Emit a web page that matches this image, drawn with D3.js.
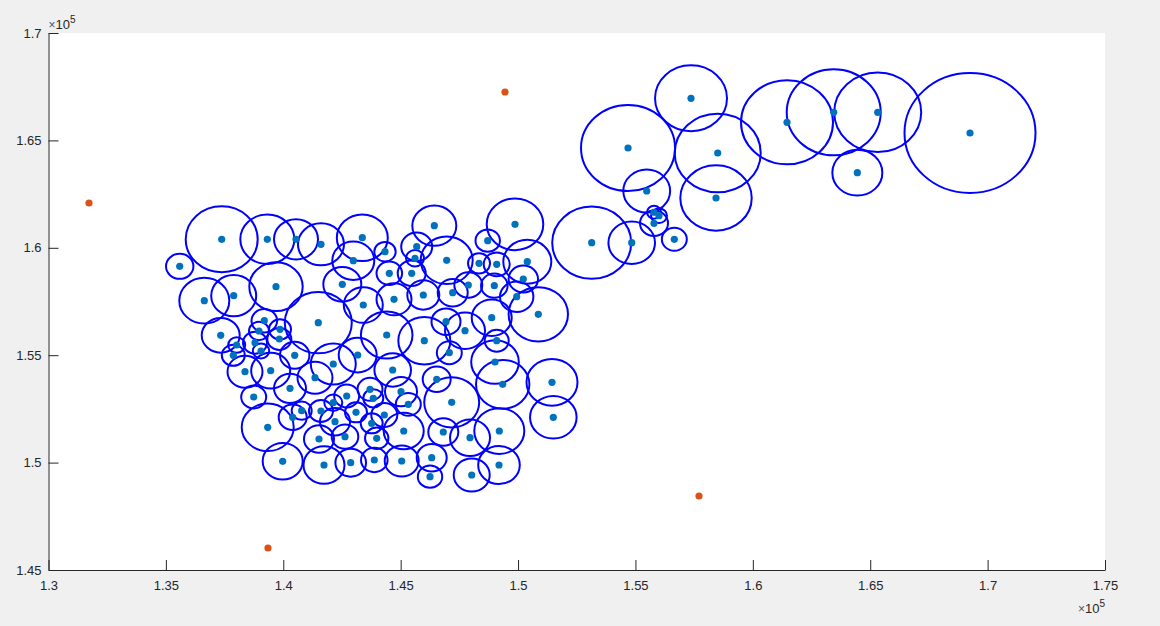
<!DOCTYPE html>
<html><head><meta charset="utf-8">
<script src="https://cdn.jsdelivr.net/npm/d3@7"></script>
<style>
html,body{margin:0;padding:0;background:#F0F0F0;}
svg{display:block;font-family:Arial,"Liberation Sans",sans-serif;}
</style></head>
<body>
<svg id="chart" width="1160" height="626"></svg>
<script>
// circle centres (x, y) and radii, in data units
const circleX = [169250,165319,163445,164451,161456,158504,158432,157367,154684,155480,155791,156004,155791,156656,154841,153137,
137377,135589,139320,140542,141606,143366,146433,148707,149870,139690,136636,137888,137335,139192,138966,139861,139831,138796,138016,137871,139051,140487,138370,139464,140286,138740,140784,140401,139337,139975,
142982,144332,145683,145611,144516,145470,142514,143408,144716,145964,141491,144405,146007,
146961,148337,149091,150394,150223,147881,147217,148989,149942,150862,148878,146931,147741,149091,
142130,143170,144660,141351,146535,143694,143834,145015,142701,142130,145326,141606,143097,144303,142203,143766,145130,141521,142629,143979,146322,141734,142872,143877,145044,146250,
147072,149018,149346,147174,151446,151502,146816,147954,149201,149188,148026];
const circleY = [165345,166308,166308,163496,165843,164413,162318,166960,164646,162644,161653,161494,161141,160396,160237,160237,
160396,159139,160396,160396,160163,160470,161029,160331,161094,158189,157537,157770,155926,156606,156127,156206,155754,155582,155475,154995,155196,154995,154232,154278,153459,153054,152416,152109,151643,150061,
159399,159818,160051,159511,158813,158813,158301,157337,157602,157803,156513,155940,155675,
159418,159278,159232,159353,158547,158268,157910,158235,157723,156904,156746,156560,156141,155675,
154590,155009,154311,153953,153878,153413,152993,153301,153101,152789,152714,152402,152342,152216,151904,151830,151471,151099,151206,151131,150228,149888,149995,150121,150074,149344,
155116,154683,153645,152807,153738,152109,151425,151159,151471,149888,149423];
const circleR = [2790,1853,2002,1065,1959,1832,1521,1533,2002,997,300,340,596,532,992,1682,
1533,584,1150,937,980,1086,937,520,1205,1137,1065,958,809,545,426,469,511,511,362,490,349,626,745,831,682,532,426,596,1107,852,
894,456,660,383,545,596,809,831,745,682,1427,1099,1107,
1107,469,554,1022,626,596,639,566,711,1265,852,618,852,511,
958,809,779,745,596,532,426,682,532,383,532,511,469,554,639,469,852,639,566,498,639,873,652,566,724,520,
532,1014,1137,1171,1086,992,639,852,1065,886,767];
// outlying points
const outlierX = [131725,149444,157707,139349];
const outlierY = [162086,167253,148445,146024];
// ticks
const xTicks = [130000,135000,140000,145000,150000,155000,160000,165000,170000,175000];
const xTickLabels = ["1.3","1.35","1.4","1.45","1.5","1.55","1.6","1.65","1.7","1.75"];
const yTicks = [145000,150000,155000,160000,165000,170000];
const yTickLabels = ["1.45","1.5","1.55","1.6","1.65","1.7"];

const svg = d3.select("#chart");
const L = 48.5, R = 1105, T = 33, B = 570;
const x = d3.scaleLinear().domain([130000,175000]).range([L,R]);
const y = d3.scaleLinear().domain([145000,170000]).range([B,T]);

svg.append("rect").attr("x",L).attr("y",T).attr("width",R-L).attr("height",B-T).attr("fill","#fff");

const circles = circleX.map((cx,i)=>({cx, cy: circleY[i], r: circleR[i]}));
svg.append("g").selectAll("ellipse").data(circles).join("ellipse")
  .attr("cx",d=>x(d.cx)).attr("cy",d=>y(d.cy))
  .attr("rx",d=>x(d.r)-x(0)).attr("ry",d=>y(0)-y(d.r))
  .attr("fill","none").attr("stroke","#0000FF").attr("stroke-width",2);

svg.append("g").selectAll("circle").data(circles).join("circle")
  .attr("cx",d=>x(d.cx)).attr("cy",d=>y(d.cy)).attr("r",3.6).attr("fill","#0072BD");

svg.append("g").selectAll("circle").data(outlierX.map((v,i)=>({x:v,y:outlierY[i]}))).join("circle")
  .attr("cx",d=>x(d.x)).attr("cy",d=>y(d.y)).attr("r",3.6).attr("fill","#D95319");

// axes
const xAxis = d3.axisBottom(x).tickValues(xTicks).tickFormat((d,i)=>xTickLabels[i]).tickSizeInner(-10).tickSizeOuter(0).tickPadding(11);
const yAxis = d3.axisLeft(y).tickValues(yTicks).tickFormat((d,i)=>yTickLabels[i]).tickSizeInner(-10).tickSizeOuter(0).tickPadding(7);
const gx = svg.append("g").attr("transform",`translate(0,${B})`).call(xAxis);
const gy = svg.append("g").attr("transform",`translate(${L},0)`).call(yAxis);
[gx,gy].forEach(g=>{
  g.select(".domain").attr("stroke","#262626");
  g.selectAll(".tick line").attr("stroke","#262626");
  g.selectAll("text").attr("fill","#262626").attr("font-size","13px").attr("font-family","Arial,'Liberation Sans',sans-serif");
});

// exponent labels
function expo(xp, yp, anchor){
  const t = svg.append("text").attr("x",xp).attr("y",yp).attr("text-anchor",anchor)
    .attr("fill","#262626").attr("font-size","13px");
  t.append("tspan").text("\u00d7").attr("font-size","12px").attr("fill","#555");
  t.append("tspan").text("10");
  t.append("tspan").text("5").attr("font-size","10px").attr("dy","-6");
}
expo(L, 29, "start");
expo(R, 613, "end");
</script>
</body></html>
